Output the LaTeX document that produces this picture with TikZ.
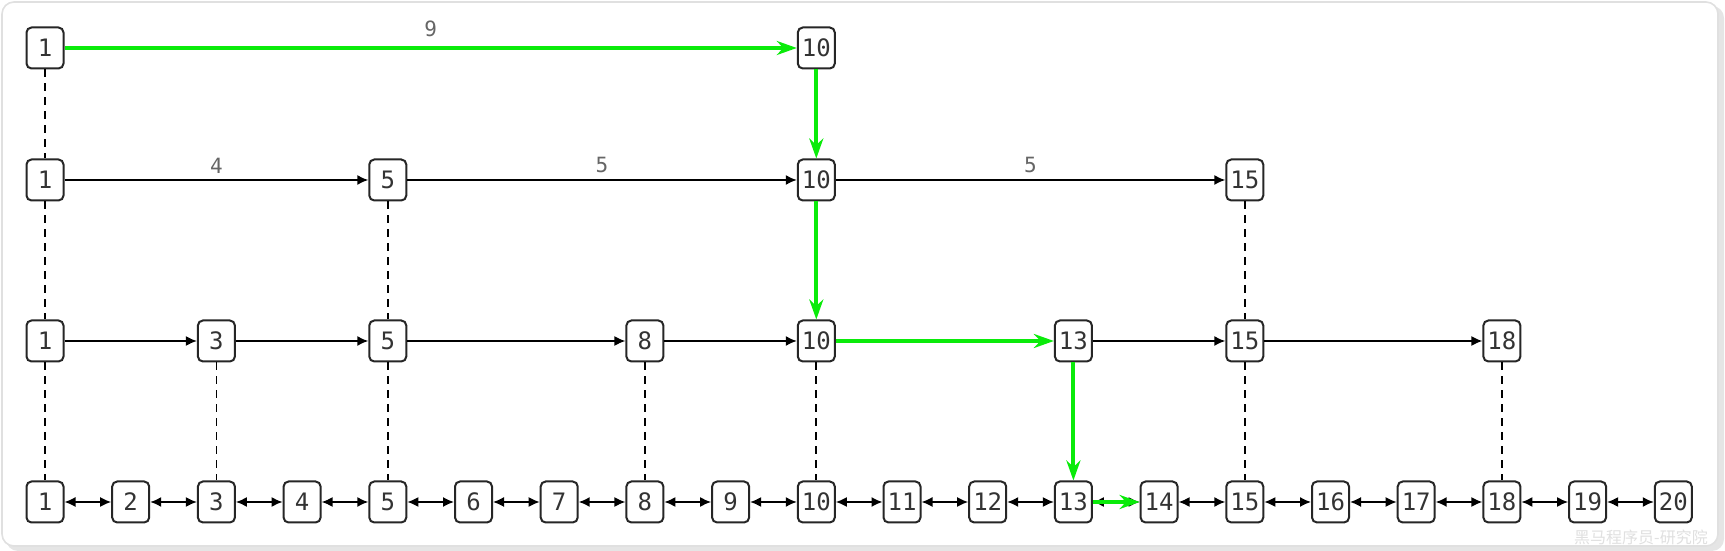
\documentclass[tikz,border=0pt]{standalone}
\usepackage{fontspec}
\setmonofont{DejaVu Sans Mono}
\newfontfamily\cjk{Noto Sans CJK SC}
\usetikzlibrary{arrows.meta}
\definecolor{hitgreen}{RGB}{10,235,10}

\begin{document}
\begin{tikzpicture}[x=0.5pt,y=0.5pt]
	\tikzstyle{key} = [draw=black!85,rounded corners=2.5pt,line width=1pt,minimum width=18.5pt,minimum height=20.5pt,inner sep=0pt,font=\ttfamily\fontsize{12}{14}\selectfont,fill=white,text=black!80]
	\tikzstyle{hop} = [-{Latex[length=5.5pt,width=5pt]},line width=0.8pt]
	\tikzstyle{twin} = [{Latex[length=5.5pt,width=5pt]}-{Latex[length=5.5pt,width=5pt]},line width=0.8pt]
	\tikzstyle{drop} = [dash pattern=on 4pt off 3pt,line width=0.9pt]
	\tikzstyle{found} = [-{Stealth[length=10pt,width=7pt]},line width=2pt,draw=hitgreen]
	\tikzstyle{span} = [midway,above,inner sep=3pt,font=\ttfamily\fontsize{10.5}{12}\selectfont,text=black!60]

	% frame
	\fill[black!10,rounded corners=6pt] (6,0) rectangle (1724,545);
	\filldraw[fill=white,draw=black!12,line width=0.8pt,rounded corners=6pt] (2,5) rectangle (1718,549);
	\useasboundingbox (0,0) rectangle (1725,551);

	% levels
	\foreach \i in {1,...,20}
		\node[key] (b\i) at ({45+85.7*(\i-1)},49) {\i};
	\foreach \i in {1,3,5,8,10,13,15,18}
		\node[key] (m\i) at ({45+85.7*(\i-1)},210) {\i};
	\foreach \i in {1,5,10,15}
		\node[key] (u\i) at ({45+85.7*(\i-1)},371) {\i};
	\foreach \i in {1,10}
		\node[key] (t\i) at ({45+85.7*(\i-1)},503) {\i};

	% down links
	\draw[drop] (t1) -- (u1);
	\foreach \i in {1,5,15}
		\draw[drop] (u\i) -- (m\i);
	\foreach \i in {1,3,5,8,10,15,18}
		\draw[drop] (m\i) -- (b\i);

	% forward links
	\draw[hop] (u1) -- node[span] {4} (u5);
	\draw[hop] (u5) -- node[span] {5} (u10);
	\draw[hop] (u10) -- node[span] {5} (u15);
	\foreach \a/\b in {1/3,3/5,5/8,8/10,13/15,15/18}
		\draw[hop] (m\a) -- (m\b);
	\foreach \i [evaluate=\i as \j using int(\i+1)] in {1,...,19}
		\draw[twin] (b\i) -- (b\j);

	% search path
	\draw[found] (t1) -- node[span,yshift=1.5pt] {9} (t10);
	\draw[found] (t10) -- (u10);
	\draw[found] (u10) -- (m10);
	\draw[found] (m10) -- (m13);
	\draw[found] (m13) -- (b13);
	\draw[found] (b13) -- (b14);

	\node[font=\cjk\fontsize{8}{8}\selectfont,text=black!12] (mark) at (1641,14) {黑马程序员-研究院};
\end{tikzpicture}
\end{document}
